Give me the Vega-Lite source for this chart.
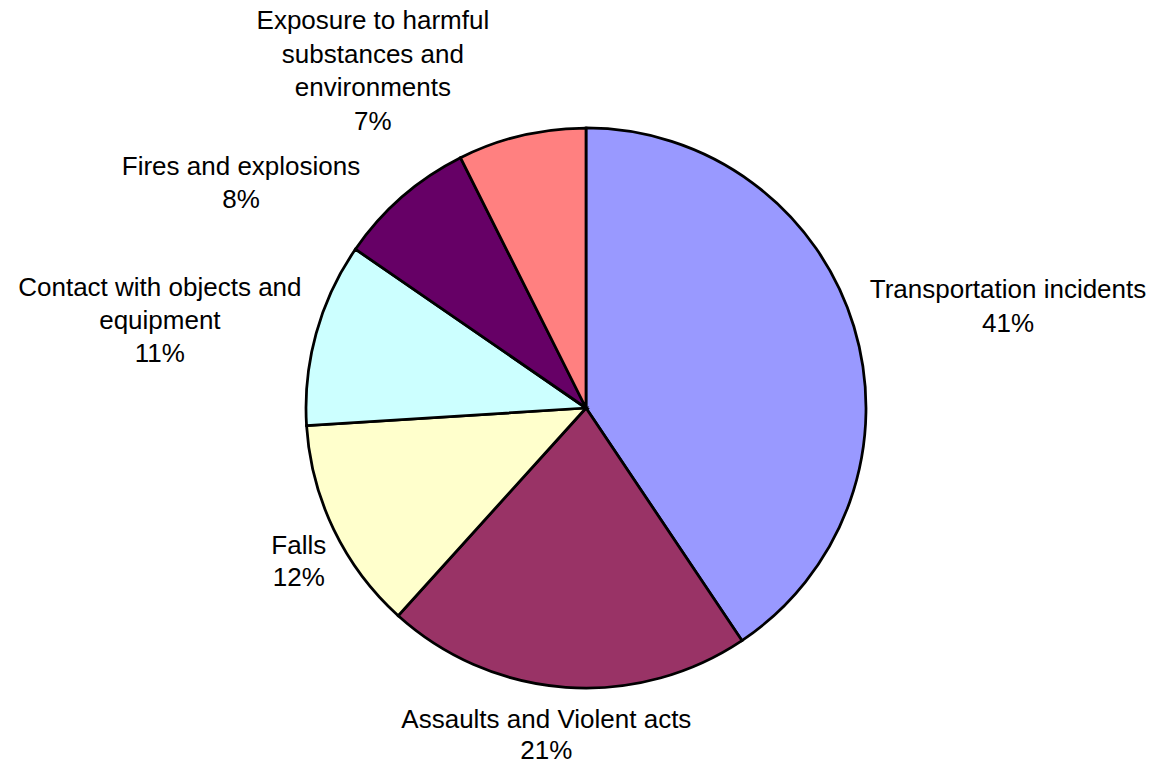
{
  "$schema": "https://vega.github.io/schema/vega-lite/v6.json",
  "width": 1140,
  "height": 714,
  "autosize": "none",
  "padding": {"left": 16, "top": 51, "right": 0, "bottom": 0},
  "background": "white",
  "config": {"view": {"stroke": null}},
  "data": {
    "values": [
      {"cat": "Transportation incidents", "value": 40.6, "ord": 1, "label": "Transportation incidents\n41%"},
      {"cat": "Assaults and Violent acts", "value": 21.1, "ord": 2, "label": "Assaults and Violent acts\n21%"},
      {"cat": "Falls", "value": 12.3, "ord": 3, "label": "Falls\n12%"},
      {"cat": "Contact with objects and equipment", "value": 10.6, "ord": 4, "label": "Contact with objects and\nequipment\n11%"},
      {"cat": "Fires and explosions", "value": 8.0, "ord": 5, "label": "Fires and explosions\n8%"},
      {"cat": "Exposure to harmful substances and environments", "value": 7.4, "ord": 6, "label": "Exposure to harmful\nsubstances and\nenvironments\n7%"}
    ]
  },
  "encoding": {
    "theta": {"field": "value", "type": "quantitative", "stack": true},
    "order": {"field": "ord", "type": "quantitative"}
  },
  "layer": [
    {
      "mark": {"type": "arc", "outerRadius": 280, "stroke": "black", "strokeWidth": 2.75},
      "encoding": {
        "color": {
          "field": "cat", "type": "nominal", "legend": null,
          "scale": {
            "domain": ["Transportation incidents", "Assaults and Violent acts", "Falls", "Contact with objects and equipment", "Fires and explosions", "Exposure to harmful substances and environments"],
            "range": ["#9999FF", "#993366", "#FFFFCC", "#CCFFFF", "#660066", "#FF8080"]
          }
        }
      }
    },
    {
      "mark": {"type": "text", "radius": 300, "dx": 135, "dy": -31, "font": "Liberation Sans", "fontSize": 26, "lineHeight": 34, "lineBreak": "\n", "align": "center", "baseline": "middle", "color": "black"},
      "encoding": {"text": {"condition": {"test": "datum.ord == 1", "field": "label"}, "value": ""}}
    },
    {
      "mark": {"type": "text", "radius": 300, "dx": -18, "dy": 13, "font": "Liberation Sans", "fontSize": 26, "lineHeight": 31, "lineBreak": "\n", "align": "center", "baseline": "middle", "color": "black"},
      "encoding": {"text": {"condition": {"test": "datum.ord == 2", "field": "label"}, "value": ""}}
    },
    {
      "mark": {"type": "text", "radius": 300, "dx": -17, "dy": 8, "font": "Liberation Sans", "fontSize": 26, "lineHeight": 32, "lineBreak": "\n", "align": "center", "baseline": "middle", "color": "black"},
      "encoding": {"text": {"condition": {"test": "datum.ord == 3", "field": "label"}, "value": ""}}
    },
    {
      "mark": {"type": "text", "radius": 300, "dx": -137, "dy": -40, "font": "Liberation Sans", "fontSize": 26, "lineHeight": 33, "lineBreak": "\n", "align": "center", "baseline": "middle", "color": "black"},
      "encoding": {"text": {"condition": {"test": "datum.ord == 4", "field": "label"}, "value": ""}}
    },
    {
      "mark": {"type": "text", "radius": 300, "dx": -148, "dy": -15, "font": "Liberation Sans", "fontSize": 26, "lineHeight": 33, "lineBreak": "\n", "align": "center", "baseline": "middle", "color": "black"},
      "encoding": {"text": {"condition": {"test": "datum.ord == 5", "field": "label"}, "value": ""}}
    },
    {
      "mark": {"type": "text", "radius": 300, "dx": -144, "dy": -95, "font": "Liberation Sans", "fontSize": 26, "lineHeight": 33.5, "lineBreak": "\n", "align": "center", "baseline": "middle", "color": "black"},
      "encoding": {"text": {"condition": {"test": "datum.ord == 6", "field": "label"}, "value": ""}}
    }
  ]
}
